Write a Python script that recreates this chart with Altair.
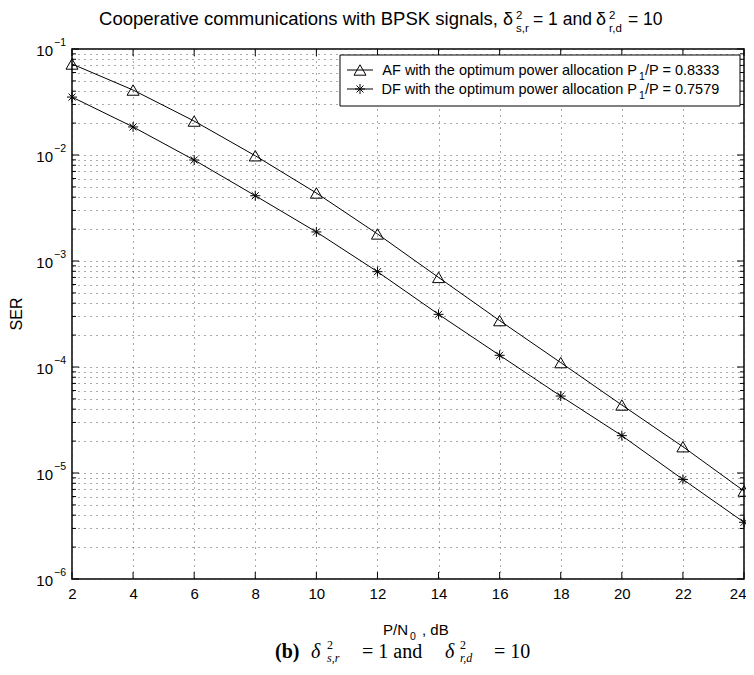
import altair as alt
import pandas as pd

# ---------------- data ----------------
snr_db = [2, 4, 6, 8, 10, 12, 14, 16, 18, 20, 22, 24]
ser_af = [0.0722, 0.0410, 0.0209, 0.00984, 0.00438, 0.00180, 0.000700,
          0.000274, 0.000110, 0.0000438, 0.0000177, 0.00000676]
ser_df = [0.0352, 0.0184, 0.00897, 0.00413, 0.00188, 0.000793, 0.000314,
          0.000129, 0.0000532, 0.0000225, 0.0000087, 0.00000343]
series = ["AF", "DF"]

x_ticks = [2, 4, 6, 8, 10, 12, 14, 16, 18, 20, 22, 24]
y_major = [1e-1, 1e-2, 1e-3, 1e-4, 1e-5, 1e-6]
y_exponents = ["\u22121", "\u22122", "\u22123", "\u22124", "\u22125", "\u22126"]
y_minor = [round(m * 10.0 ** k, 12) for k in range(-6, -1) for m in range(2, 10)]

title_parts = ["Cooperative communications with BPSK signals,", "\u03b4", "2", "s,r",
               "= 1 and", "\u03b4", "2", "r,d", "= 10"]
x_title = ["P/N", "0", ", dB"]
y_title = "SER"
legend_text = ["AF with the optimum power allocation P", "DF with the optimum power allocation P"]
legend_sub = ["1", "1"]
legend_ratio = ["/P = 0.8333", "/P = 0.7579"]
caption_parts = ["(b)", "\u03b4", "2", "s,r", "= 1 and", "\u03b4", "2", "r,d", "= 10"]

# ---------------- layout ----------------
FONT = "Liberation Sans"
SERIF = "Liberation Serif"
W, H = 672, 530
ASTERISK = "M-1,0L1,0M0,-1L0,1M-0.7,-0.7L0.7,0.7M-0.7,0.7L0.7,-0.7"
GRID = dict(grid=True, gridDash=[1, 5], gridColor="#555555", gridWidth=1)
LAST = x_ticks[-1]

df = pd.DataFrame({
    "snr": snr_db * 2,
    "ser": ser_af + ser_df,
    "series": [series[0]] * len(snr_db) + [series[1]] * len(snr_db),
})

x_axis = alt.Axis(values=x_ticks, format="d", title=None, ticks=False, domain=False,
                  labelFontSize=15, labelFont=FONT, labelColor="black", labelPadding=7,
                  labelFlush=False, labelOverlap=False,
                  labelAlign=alt.condition(f"datum.value == {LAST}", alt.value("right"),
                                           alt.value("center")),
                  labelOffset=alt.condition(f"datum.value == {LAST}", alt.value(2),
                                            alt.value(0)),
                  **GRID)
y_axis = alt.Axis(values=y_major + y_minor, labels=False, ticks=False, domain=False,
                  title=None, **GRID)

X = alt.X("snr:Q", scale=alt.Scale(domain=[2, 24], nice=False, zero=False), axis=x_axis)
Y = alt.Y("ser:Q", scale=alt.Scale(type="log", domain=[1e-6, 1e-1], nice=False), axis=y_axis)


def one():
    return pd.DataFrame({"k": [0]})


def txt(s, x, y, size, align="left", font=FONT, weight="normal", style="normal",
        angle=None, baseline="alphabetic"):
    kw = dict(align=align, baseline=baseline, fontSize=size, font=font,
              fontWeight=weight, fontStyle=style, color="black")
    if angle is not None:
        kw["angle"] = angle
    return alt.Chart(pd.DataFrame({"t": [s]})).mark_text(**kw).encode(
        text="t:N", x=alt.value(x), y=alt.value(y))


layers = []

# data lines and markers
layers.append(alt.Chart(df).mark_line(color="black", strokeWidth=1).encode(
    x=X, y=Y, detail="series:N"))
layers.append(alt.Chart(df).transform_filter(alt.datum.series == series[0]).mark_point(
    shape="triangle-up", filled=False, color="black", strokeWidth=1, size=144, opacity=1
).encode(x=X, y=Y))
layers.append(alt.Chart(df).transform_filter(alt.datum.series == series[1]).mark_point(
    shape=ASTERISK, filled=False, color="black", strokeWidth=1, size=100, opacity=1
).encode(x=X, y=Y))

# inward ticks
xt = pd.DataFrame({"snr": x_ticks})
layers.append(alt.Chart(xt).mark_rule(color="black", strokeWidth=1).encode(
    x=X, y=alt.value(H), y2=alt.value(H - 7)))
layers.append(alt.Chart(xt).mark_rule(color="black", strokeWidth=1).encode(
    x=X, y=alt.value(0), y2=alt.value(7)))
ymaj = pd.DataFrame({"ser": y_major, "e": y_exponents})
ymin = pd.DataFrame({"ser": y_minor})
for frame, ln in ((ymaj, 7), (ymin, 4)):
    layers.append(alt.Chart(frame).mark_rule(color="black", strokeWidth=1).encode(
        y=Y, x=alt.value(0), x2=alt.value(ln)))
    layers.append(alt.Chart(frame).mark_rule(color="black", strokeWidth=1).encode(
        y=Y, x=alt.value(W), x2=alt.value(W - ln)))

# y tick labels 10^k
layers.append(alt.Chart(ymaj).mark_text(align="right", baseline="middle", fontSize=15,
                                        font=FONT, color="black", dy=2).encode(
    y=Y, x=alt.value(-19), text=alt.value("10")))
layers.append(alt.Chart(ymaj).mark_text(align="left", baseline="middle", fontSize=10.5,
                                        font=FONT, color="black", dy=-6).encode(
    y=Y, x=alt.value(-18), text="e:N"))

# legend
layers.append(alt.Chart(one()).mark_rect(fill="white", stroke="black", strokeWidth=1).encode(
    x=alt.value(268), x2=alt.value(668), y=alt.value(6), y2=alt.value(57)))
leg_y = [21, 40]
leg_shapes = ["triangle-up", ASTERISK]
leg_sizes = [144, 100]
for i in range(2):
    layers.append(alt.Chart(one()).mark_rule(color="black", strokeWidth=1).encode(
        x=alt.value(275), x2=alt.value(301), y=alt.value(leg_y[i])))
    layers.append(alt.Chart(one()).mark_point(shape=leg_shapes[i], filled=False, color="black",
                                              strokeWidth=1, size=leg_sizes[i], opacity=1).encode(
        x=alt.value(288), y=alt.value(leg_y[i])))
    layers.append(txt(legend_text[i], 565, leg_y[i] + 5, 14.5, align="right"))
    layers.append(txt(legend_sub[i], 567, leg_y[i] + 10, 10.5))
    layers.append(txt(legend_ratio[i], 573, leg_y[i] + 5, 14.5))

# title (Matlab style with stacked super/subscripts)
t_x = [426, 431, 444, 444, 461, 524, 537, 537, 556]
t_y = [-24, -24, -30, -17, -24, -24, -30, -17, -24]
t_size = [18.5, 18, 11.5, 11.5, 17.5, 18, 11.5, 11.5, 17.5]
t_align = ["right"] + ["left"] * 8
for i, part in enumerate(title_parts):
    layers.append(txt(part, t_x[i], t_y[i], t_size[i], align=t_align[i]))

# axis titles
layers.append(txt(x_title[0], 336, 586, 15, align="right"))
layers.append(txt(x_title[1], 338, 591, 10.5))
layers.append(txt(x_title[2], 350, 586, 15))
layers.append(txt(y_title, -50, H / 2, 16, align="center", angle=270))

# caption (LaTeX-like)
cap_x = [203, 239, 255, 255, 290, 373, 388, 388, 422]
cap_dy = [0, 0, -9, 4, 0, 0, -9, 4, 0]
cap_size = [20, 20, 12, 12, 20, 20, 12, 12, 20]
cap_weight = ["bold"] + ["normal"] * 8
cap_style = ["normal", "italic", "normal", "italic", "normal", "italic", "normal", "italic", "normal"]
for i, part in enumerate(caption_parts):
    layers.append(txt(part, cap_x[i], 609 + cap_dy[i], cap_size[i], font=SERIF,
                      weight=cap_weight[i], style=cap_style[i]))

chart = alt.layer(*layers).properties(
    width=W, height=H,
    autosize=alt.AutoSizeParams(type="none"),
    padding={"left": 64, "top": 41, "right": 2, "bottom": 86},
    background="white",
).configure_view(stroke="black", strokeWidth=1.5)

chart.save("out.html", embed_options={"renderer": "svg", "actions": False})
